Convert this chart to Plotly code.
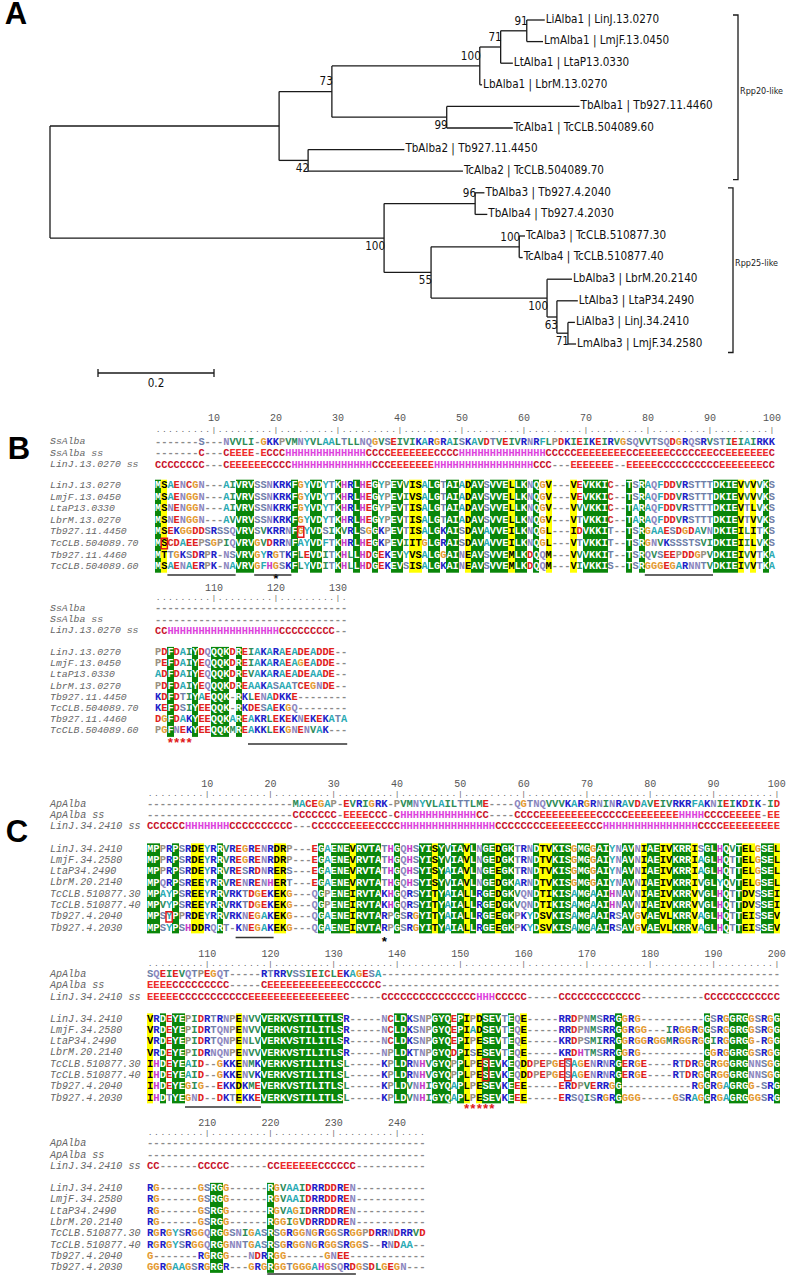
import plotly.graph_objects as go

W, H = 792, 1279

# ====================== DATA ======================
# ---- Panel A: phylogenetic tree (label, branch length, bootstrap, label side, children)
TREE = ("", 0.0, None, "", [
    ("", 0.395, None, "", [
        ("", 0.091, 73, "a", [
            ("", 0.255, 100, "a", [
                ("", 0.036, 71, "a", [
                    ("", 0.045, 91, "a", [
                        ("LiAlba1 | LinJ.13.0270", 0.031, None, "", []),
                        ("LmAlba1 | LmjF.13.0450", 0.028, None, "", []),
                    ]),
                    ("LtAlba1 | LtaP13.0330", 0.021, None, "", []),
                ]),
                ("LbAlba1 | LbrM.13.0270", 0.004, None, "", []),
            ]),
            ("", 0.198, 99, "b", [
                ("TbAlba1 | Tb927.11.4460", 0.229, None, "", []),
                ("TcAlba1 | TcCLB.504089.60", 0.114, None, "", []),
            ]),
        ]),
        ("", 0.050, 42, "b", [
            ("TbAlba2 | Tb927.11.4450", 0.166, None, "", []),
            ("TcAlba2 | TcCLB.504089.70", 0.267, None, "", []),
        ]),
    ]),
    ("", 0.576, 100, "b", [
        ("", 0.157, 96, "a", [
            ("TbAlba3 | Tb927.4.2040", 0.016, None, "", []),
            ("TbAlba4 | Tb927.4.2030", 0.021, None, "", []),
        ]),
        ("", 0.081, 55, "b", [
            ("", 0.152, 100, "a", [
                ("TcAlba3 | TcCLB.510877.30", 0.010, None, "", []),
                ("TcAlba4 | TcCLB.510877.40", 0.006, None, "", []),
            ]),
            ("", 0.200, 100, "b", [
                ("LbAlba3 | LbrM.20.2140", 0.043, None, "", []),
                ("", 0.017, 63, "b", [
                    ("LtAlba3 | LtaP34.2490", 0.036, None, "", []),
                    ("", 0.019, 71, "b", [
                        ("LiAlba3 | LinJ.34.2410", 0.012, None, "", []),
                        ("LmAlba3 | LmjF.34.2580", 0.014, None, "", []),
                    ]),
                ]),
            ]),
        ]),
    ]),
])
CLADE_NAMES = ["Rpp20-like", "Rpp25-like"]
CLADE_LEAVES = [(0, 7), (8, 15)]
SCALE_VALUE = 0.2
SCALE_LABEL = "0.2"

# ---- Panel B alignment
B_REF_NAMES = ["SsAlba", "SsAlba ss", "LinJ.13.0270 ss"]
B_SEQ_NAMES = ["LinJ.13.0270", "LmjF.13.0450", "LtaP13.0330", "LbrM.13.0270",
               "Tb927.11.4450", "TcCLB.504089.70", "Tb927.11.4460", "TcCLB.504089.60"]
B1_REF = [
    "-------S---NVVLI-GKKPVMNYVLAALTLLNQGVSEIVIKARGRAISKAVDTVEIVRNRFLPDKIEIKEIRVGSQVVTSQDGRQSRVSTIEIAIRKK",
    "-------C---CEEEE-ECCCHHHHHHHHHHHHHCCCCEEEEEEECCCCHHHHHHHHHHHHHHCCCCCEEEEEEEECCEEEEECCCCCEECCEEEEEEEC",
    "CCCCCCCC---CEEEEEECCCCHHHHHHHHHHHHHCCCEEEEEEEHHHHHHHHHHHHHHHHCCC---EEEEEEE--EEEEECCCCCCCCCCEEEEEEECC",
]
B1_SEQ = [
    "MSAENCGN---AIVRVSSNKRKFGYVDYTKHRLHEGYPEVVISALGTAIADAVSVVELLKNQGV---VEVKKIC--TSRAQFDDVRSTTTDKIEVVVVKS",
    "MSAENGGN---AIVRVSSNKRKFGYVDYTKHRLHEGYPEVIVSALGTAIADAVSVVELLKNQGV---VEVKKIC--TSRAQFDDVRSTTTDKIEVVVVKS",
    "MSNENGGN---AIVRVSSNKRKFGYVDYTKHRLHEGYPEVTISALGTAIADAVSVVELLKNQGV---VVVKKIC--TARAQFDDVRSTTTDKIEVTLVKS",
    "MSNENGGN---AVVRVSSNKRKFGYVDYTKHRLHEGYPEVTISALGTAIADAVSVVELLKNQGV---VTVKKIC--TARAQFDDVRSTTTDKIEVTVVKS",
    "MSEKGGDDSRSSQVRVSVKRRNFGYVDSIKVRLSGGKPEVTISALGKAISDAVAVVEILKNQGL---IDVKKIT--TSRGAAESDGDAVNDKIEILITKS",
    "MSCDAEEPSGPIQVRVGVDRRNFAYVDFTKHRLHEGKPEVIITGLGRAISDAVAVVEILKNQGL---VTVKKIT--TSRGNVKSSSTSVIDKIEIILVKS",
    "MTTGKSDRPR-NSVRVGYRGTKFLEVDITKHLLHDGEKEVYVSALGGAINEAVSVVEMLKDQQM---VVVKKIT--TSRQVSEEPDDGPVDKIEIVVTKA",
    "MSAENAERPK-NAVRVGFHGSKFLYVDITKHLLHDGEKEVSISALGKAINEAVSVVEMLKDQQM---VIVKKIS--TSRGGGEGARNNTVDKIEIVVTKA",
]
B2_REF = [
    "-------------------------------",
    "-------------------------------",
    "CCHHHHHHHHHHHHHHHHHHCCCCCCCCC--",
]
B2_SEQ = [
    "PDFDAIYDQQQKDREIAKARAEADEADDE--",
    "PEFDAIYEQQQKDREIAKARAEAGEADDE--",
    "ADFDAIYEQQQKDREVAKARAEADEAADE--",
    "PDFDAIYEQQQKDREAAKASAATCEGNDE--",
    "KDFDTIYAEQQK-RKLENADKKE--------",
    "KEFDSIYEEQQK-RKDESAEKGQ--------",
    "DGFDAKYEEQQKAREAKRLEKEKNEKEKATA",
    "PGFNEKYEEQQKMREAKKLEKGNENVAK---",
]

# ---- Panel C alignment
C_REF_NAMES = ["ApAlba", "ApAlba ss", "LinJ.34.2410 ss"]
C_SEQ_NAMES = ["LinJ.34.2410", "LmjF.34.2580", "LtaP34.2490", "LbrM.20.2140",
               "TcCLB.510877.30", "TcCLB.510877.40", "Tb927.4.2040", "Tb927.4.2030"]
C1_REF = [
    "-----------------------MACEGAP-EVRIGRK-PVMNYVLAILTTLME----QGTNQVVVKARGRNINRAVDAVEIVRKRFAKNIEIKDIK-ID",
    "-----------------------CCCCCCC-EEEECCC-CHHHHHHHHHHHHCC----CCCCEEEEEEEEECCCCCEEEEEEEEHHHHCCCCEEEEE-EE",
    "CCCCCCHHHHHHHCCCCCCCCCC---CCCCCCEEEECCCCHHHHHHHHHHHHHHHCCCCCCCCEEEEEECCCHHHHHHHHHHHHHHHCCCCEEEEEEEEE",
]
C1_SEQ = [
    "MPPRPSRDEYRRVREGRENRDRP---EGAENEVRVTATHGQHSYISYVIAVLNGEDGKTRNDTVKISGMGGAIYNAVNIAEIVKRRISGLHQVTELGSEL",
    "MPPRPSRDEYRRVREGRENRDRP---EGAENEVRVTATHGQHSYISYVIAVLNGEDGKTRNDTVKISGMGGAIYNAVNIAEIVKRRIAGLHQTTELGSEL",
    "MPPRPSRDEYRRVRESRDNRERS---EGAENEVRVTATHGQHSYISYAIAVLNGEEGKTRNDTVKISGMGGAIYNAVNIAEIVKRRIAGLHQTTELGSEL",
    "MPQRPSREEYRRVRENRENHERT---EGAENEVRVTATHGQHSYISYVIAVLNGEDGKARNDTVKISGMGGAIYNAVNIAEIVKRRIVGLYQVTELGSEL",
    "MPAYPSREEYRRVRKTDGEKEKG---QGPENEIRVTAKHGQRSYITYAIALLRGEDGKVQNDTIKISAMGAAIHNAVNIAEIVKRRVVGLHQTTDVSSEI",
    "MPVYPSREEYRRVRKTDGEKEKG---QGPENEIRVTAKHGQRSYITYAIALLRGEDGKVQNDTIKISAMGAAIHNAVNIAEIVKRRVVGLHQTTDVSSEI",
    "MPSYPPRDEYRRVRKNEGAKEKG---QGAENEIRVTARPGSRGYITYAIALLRGEEGKPKYDSVKISAMGAAIRSAVGVAEVLKRRVAGLHQTTEISSEV",
    "MPSYPSHDDRQRT-KNEGAKEKG---QGAENEIRVTARPGSRGYITYAIALLRGEEGKPKYDSVKISAMGAAIRSAVGVAEVLKRRVAGLHQTTEISSEV",
]
C2_REF = [
    "SQEIEVQTPEGQT-----RTRRVSSIEICLEKAGESA---------------------------------------------------------------",
    "EEEECCCCCCCCC-----CEEEEEEEEEEEECCCCCC---------------------------------------------------------------",
    "EEEEECCCCCCCCCCCEEEEEEEEEEEEEEEC-----CCCCCCCCCCCCCCCHHHCCCCC-----CCCCCCCCCCCCC----------CCCCCCCCCCCC",
]
C2_SEQ = [
    "VRDEYEPIDRTRNPENVVVERKVSTILITLSR-----NCLDKSNPGYQEPIPDSEVTEQE-----RRDPNMSRRGGRG----------GSRGGRGGSRGG",
    "VRDEYEPIDRTQNPENVVVERKVSTILITLSR-----NCLDKSNPGYQEPIADSEVTEQE-----RRDPNMSRRGGRGG---IRGGRGGSRGGRGGSRGG",
    "VRDEYEPIDRTQNPENLVVERKVSTILITLSR-----NCLDKSNPGYQEPIPESEVTEQE-----KRDPSMIRRGGRGGRGGMRGGRGGIRGGRGG-RGG",
    "VRDEYEPIDRNQNPENVVVERKVSTILITLSR-----NPLDKTNPGYQDPISESEVTEQE-----KRDHTMSRRGGRG----------GGRGGRGGSRGG",
    "IHDEYEAID--GKKENMKVERKVSTILITLSL-----KPLDRNHVGYQPPLPESEVKEQDDPEPGESAGENRNRGERGE----RTDRGGRGGGRGNNSGG",
    "IHDEYEAID--GKKENVKVERKVSTILITLSL-----KPLDRNHVGYQPPLPESEVKEQDDPEPGESAGENRNRGERGE----RTDRGGRGGGRGNNSGG",
    "IHDEYEGIG--EKKDKMEVERKVSTILITLSL-----KPLDVNHIGYQAPLPESEVKEEE-----ERDPVERRGG-----------RGGRGAGRGG-SRG",
    "IHDTYEGND--DKTEKKEVERKVSTILITLSL-----KPLDVNHIGYQAPLPESEVKEEE-----ERSQISRGRGGGG-----GSRAGGRGAGRGGGSRG",
]
C3_REF = [
    "--------------------------------------------",
    "--------------------------------------------",
    "CC------CCCCC------CCEEEEEECCCCCC-----------",
]
C3_SEQ = [
    "RG------GSRGG------RGVAAIDRRDDREN-----------",
    "RG------GSRGG------RGVAAIDRRDDREN-----------",
    "RG------GSRGG------RGVAGIDRRDDREN-----------",
    "RG------GSRGG------RGGIGVDRRDDREN-----------",
    "RGRGYSRGGQRGGSNIGASRSGRGGNGRGGSRGGPDRRNDRRVD",
    "RGRGYSRGGQRGGNNTGASRSGRGGNGRGGSRGGS--RNDAA--",
    "G-------RGRGG---NDRRGG------GNEE------------",
    "GGRGAAGSRGRGR---GRGRGGTGGGAHGSQRDGSDLGEGN---",
]

# annotations: (first col, last col) underlines, starred columns, boxed (row, col, row_end)
B1_UNDERLINES = [(3, 13), (17, 22), (80, 90)]
B1_STARS = [20]
B1_BOXES = [(4, 24, 4), (5, 2, 5)]
B2_UNDERLINES = [(16, 31)]
B2_STARS = [3, 4, 5, 6]
C1_UNDERLINES = [(15, 20)]
C1_STARS = [38]
C1_BOXES = [(6, 4, 6)]
C2_UNDERLINES = [(7, 18)]
C2_STARS = [51, 52, 53, 54, 55]
C2_BOXES = [(4, 54, 5), (4, 67, 5)]
C3_UNDERLINES = [(20, 33)]

for _blk in (B1_REF + B1_SEQ, B2_REF + B2_SEQ, C1_REF + C1_SEQ, C2_REF + C2_SEQ, C3_REF + C3_SEQ):
    _ls = [len(s) for s in _blk]
    assert len(set(_ls)) == 1, str(_ls)

# ====================== STYLE ======================
AA_COL = {
    'K': '#2020c8', 'R': '#2020c8',
    'D': '#e0201c', 'E': '#e0201c',
    'H': '#c83cc8', 'G': '#e49a30', 'P': '#9a9080',
    'A': '#28aab4', 'F': '#28aab4', 'Y': '#28aab4', 'W': '#28aab4',
    'V': '#2e8b57', 'I': '#2e8b57', 'L': '#2e8b57', 'M': '#2e8b57',
    'S': '#6f80aa', 'T': '#6f80aa', 'N': '#8c86c0', 'Q': '#8c86c0',
    'C': '#d03030', '-': '#8a8a8a',
}
SS_COL = {'C': '#c8102a', 'E': '#ee2a2a', 'H': '#dd44dd', '-': '#8a8a8a'}
GREEN, YELLOW = '#0a860a', '#ffff00'
GROUPS = ["ST", "DE", "KR", "ILVM", "FYW", "NQ"]
MONO = "Liberation Mono, Courier New, monospace"
NARROW = "Liberation Sans Narrow, Arial Narrow, DejaVu Sans Condensed, sans-serif"
SANS = "Liberation Sans, Arial, sans-serif"
NAME_X = 50
TREE_FS = 11.6

fig = go.Figure()
heat_traces, line_x, line_y, text_traces, shapes = [], [], [], [], []


def add_text(xs, ys, txt, size, color, family=MONO, weight="normal", style="normal", pos="middle center"):
    text_traces.append(go.Scatter(
        x=xs, y=ys, text=txt, mode="text", textposition=pos, cliponaxis=False,
        textfont=dict(family=family, size=size, color=color, weight=weight, style=style),
        hoverinfo="skip", showlegend=False))


# ---------------- Panel A ----------------
UNIT = 580.0
ROOT_X = 50.0
LEAF_Y0, LEAF_DY = 20.0, 21.6
leaves, boots = [], []


def place(node, xparent, counter):
    label, bl, boot, side, kids = node
    x = xparent + bl * UNIT
    if not kids:
        y = LEAF_Y0 + counter[0] * LEAF_DY
        counter[0] += 1
        leaves.append((x, y, label))
    else:
        ys = [place(k, x, counter) for k in kids]
        y = (ys[0] + ys[-1]) / 2.0
        line_x.extend([x, x, None]); line_y.extend([ys[0], ys[-1], None])
        if boot is not None:
            boots.append((x, y, boot, side))
    if bl > 0:
        line_x.extend([xparent, x, None]); line_y.extend([y, y, None])
    return y


place(TREE, ROOT_X, [0])
add_text([l[0] + 1 for l in leaves], [l[1] for l in leaves], [l[2] for l in leaves],
         TREE_FS, "#111", family=NARROW, pos="middle right")
add_text([b[0] + 1 for b in boots], [b[1] + (-9 if b[3] == "a" else 9) for b in boots],
         [str(b[2]) for b in boots], TREE_FS, "#111", family=NARROW, pos="middle left")

BR_X = [738, 733]
for k, (name, (i0, i1)) in enumerate(zip(CLADE_NAMES, CLADE_LEAVES)):
    ya = LEAF_Y0 + i0 * LEAF_DY - 5
    yb = LEAF_Y0 + i1 * LEAF_DY + 8.5
    bx = BR_X[k]
    line_x.extend([bx - 5, bx, bx, bx - 5, None]); line_y.extend([ya, ya, yb, yb, None])
    add_text([bx + 2], [(ya + yb) / 2 - 6], [name], 9, "#222", family=NARROW, pos="middle right")

SB_X0, SB_Y = 98, 373
sb_x1 = SB_X0 + SCALE_VALUE * UNIT
line_x.extend([SB_X0, sb_x1, None, SB_X0, SB_X0, None, sb_x1, sb_x1, None])
line_y.extend([SB_Y, SB_Y, None, SB_Y - 4, SB_Y + 4, None, SB_Y - 4, SB_Y + 4, None])
add_text([(SB_X0 + sb_x1) / 2], [SB_Y + 11], [SCALE_LABEL], TREE_FS, "#111", family=NARROW)

tree_trace = go.Scatter(x=line_x, y=line_y, mode="lines", line=dict(color="#1a1a1a", width=1.3),
                        hoverinfo="skip", showlegend=False)


# ---------------- Alignment blocks ----------------
def shade(rows):
    n = len(rows[0])
    z = [[None] * n for _ in rows]
    for j in range(n):
        col = [r[j] for r in rows]
        if '-' in col:
            continue
        if len(set(col)) == 1:
            v = 1
        elif any(all(c in g for c in col) for g in GROUPS):
            v = 2
        else:
            continue
        for i in range(len(rows)):
            z[i][j] = v
    return z


def block(x0, cw, fs, start, num_y, dot_y, ref_names, ref_rows, ref_ys, seq_names, seq_rows, seq_ys,
          underlines=(), under_y=None, stars=(), star_color="#000", star_y=None, boxes=()):
    n = len(seq_rows[0])
    xs = [x0 + (i + 0.5) * cw for i in range(n)]
    nums = [j for j in range(n) if (start + j) % 10 == 0]
    add_text([xs[j] for j in nums], [num_y] * len(nums), [str(start + j) for j in nums], 10, "#555")
    add_text(xs, [dot_y] * n, ['|' if (start + j) % 10 == 0 else '.' for j in range(n)], 8, "#666")
    add_text([NAME_X] * (len(ref_names) + len(seq_names)), list(ref_ys) + list(seq_ys),
             list(ref_names) + list(seq_names), fs - 0.5, "#666", style="italic", pos="middle right")
    tx, ty, tt, tc = [], [], [], []
    for r, (row, y) in enumerate(zip(ref_rows, ref_ys)):
        cmap = AA_COL if r == 0 else SS_COL
        for j, ch in enumerate(row):
            tx.append(xs[j]); ty.append(y); tt.append(ch); tc.append(cmap.get(ch, '#444'))
    z = shade(seq_rows)
    step = seq_ys[1] - seq_ys[0]
    heat_traces.append(go.Heatmap(x=xs, y=list(seq_ys), z=z, zmin=1, zmax=2, showscale=False,
                                  colorscale=[[0, GREEN], [0.5, GREEN], [0.5, YELLOW], [1, YELLOW]],
                                  hoverinfo="skip"))
    for i, (row, y) in enumerate(zip(seq_rows, seq_ys)):
        for j, ch in enumerate(row):
            tx.append(xs[j]); ty.append(y); tt.append(ch)
            v = z[i][j]
            tc.append('#ffffff' if v == 1 else ('#000000' if v == 2 else AA_COL.get(ch, '#444')))
    add_text(tx, ty, tt, fs, tc, weight="bold")
    for (a, b) in underlines:
        shapes.append(dict(type="line", xref="x", yref="y", x0=x0 + (a - 1) * cw, x1=x0 + b * cw,
                           y0=under_y, y1=under_y, line=dict(color="#333", width=1.4)))
    if stars:
        add_text([xs[s - 1] for s in stars], [star_y] * len(stars), ['*'] * len(stars), 13, star_color,
                 family=MONO, weight="bold")
    for (r0, c, r1) in boxes:
        shapes.append(dict(type="rect", xref="x", yref="y", x0=x0 + (c - 1) * cw, x1=x0 + c * cw,
                           y0=seq_ys[r0] - step / 2 + 0.5, y1=seq_ys[r1] + step / 2 - 0.5,
                           line=dict(color="#e01818", width=1.5)))


def rows_y(y0, step, k):
    return [y0 + i * step for i in range(k)]


# Panel B
block(155, 6.2, 10.33, 1, 418, 430, B_REF_NAMES, B1_REF, [442, 453.5, 465], B_SEQ_NAMES, B1_SEQ,
      rows_y(485.5, 11.6, 8), B1_UNDERLINES, 575, B1_STARS, "#000", 580, B1_BOXES)
block(155, 6.2, 10.33, 101, 588, 598, B_REF_NAMES, B2_REF, [608.5, 620, 631], B_SEQ_NAMES, B2_SEQ,
      rows_y(652.5, 11.2, 8), B2_UNDERLINES, 744, B2_STARS, "#e01818", 744)
# Panel C
block(147, 6.33, 10.55, 1, 784, 794, C_REF_NAMES, C1_REF, [804, 815.5, 826.5], C_SEQ_NAMES, C1_SEQ,
      rows_y(849, 11.3, 8), C1_UNDERLINES, 937.5, C1_STARS, "#000", 943, C1_BOXES)
block(147, 6.33, 10.55, 101, 954, 963.5, C_REF_NAMES, C2_REF, [974, 985.5, 997], C_SEQ_NAMES, C2_SEQ,
      rows_y(1019, 11.3, 8), C2_UNDERLINES, 1107, C2_STARS, "#e01818", 1110, C2_BOXES)
block(147, 6.33, 10.55, 201, 1123, 1133, C_REF_NAMES, C3_REF, [1143.5, 1155, 1166.5], C_SEQ_NAMES, C3_SEQ,
      rows_y(1188.5, 11.3, 8), C3_UNDERLINES, 1274)

add_text([16, 19, 17], [16, 451, 834], ["A", "B", "C"], 31, "#000", family=SANS, weight="bold")

for t in heat_traces:
    fig.add_trace(t)
fig.add_trace(tree_trace)
for t in text_traces:
    fig.add_trace(t)

fig.update_layout(
    width=W, height=H, margin=dict(l=0, r=0, t=0, b=0),
    paper_bgcolor="white", plot_bgcolor="white", showlegend=False,
    xaxis=dict(range=[0, W], visible=False, fixedrange=True),
    yaxis=dict(range=[H, 0], visible=False, fixedrange=True),
    shapes=shapes,
)
fig.write_html("out.html", config={"displayModeBar": False},
               post_script="document.body.style.margin='0';document.body.style.overflow='hidden';")
